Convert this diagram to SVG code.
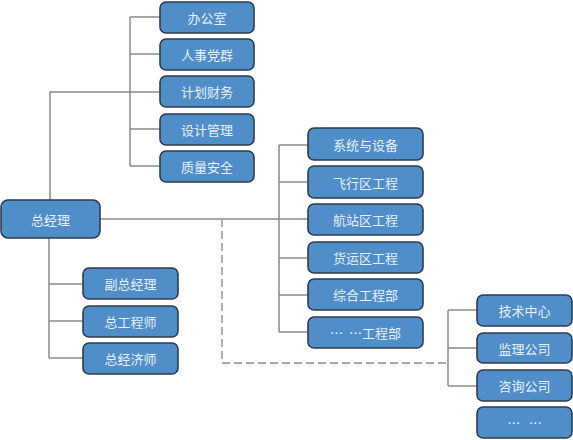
<svg xmlns="http://www.w3.org/2000/svg" width="573" height="440" viewBox="0 0 573 440">
<style>
.b rect{fill:#4f8ec9;stroke:#2f3c4c;stroke-width:1.6}
.b text{fill:#e8eff7;font-family:"Noto Sans CJK SC","Liberation Sans",sans-serif;font-size:13px;text-anchor:middle;dominant-baseline:central}
.c{stroke:#8a8a8a;stroke-width:1.5;fill:none}
.d{stroke:#a8a8a8;stroke-width:1.8;fill:none;stroke-dasharray:8 4}
</style>
<rect width="573" height="440" fill="#ffffff"/>
<g id="connectors">
<path class="c" d="M50 200V92H160M130 17V166M130 17H160M130 54H160M130 129H160M130 166H160"/>
<path class="c" d="M100 219H308M279 145V332M279 145H308M279 182H308M279 258H308M279 295H308M279 332H308"/>
<path class="c" d="M49 238V358M49 284H83M49 321H83M49 358H83"/>
<path class="c" d="M448 310V386M448 310H477M448 348H477M448 386H477"/>
<path class="d" d="M222 219V363H448"/>
</g>
<g id="n_zjl" class="b"><rect x="1" y="200" width="99" height="38" rx="7"/><text x="50.5" y="219">总经理</text></g>
<g id="n_bgs" class="b"><rect x="160" y="2" width="94" height="31" rx="6"/><text x="207" y="17.5">办公室</text></g>
<g id="n_rsdq" class="b"><rect x="160" y="39" width="94" height="31" rx="6"/><text x="207" y="54.5">人事党群</text></g>
<g id="n_jhcw" class="b"><rect x="160" y="76" width="94" height="31" rx="6"/><text x="207" y="91.5">计划财务</text></g>
<g id="n_sjgl" class="b"><rect x="160" y="114" width="94" height="31" rx="6"/><text x="207" y="129.5">设计管理</text></g>
<g id="n_zlaq" class="b"><rect x="160" y="151" width="94" height="31" rx="6"/><text x="207" y="166.5">质量安全</text></g>
<g id="n_fzjl" class="b"><rect x="83" y="268" width="95" height="31" rx="6"/><text x="130.5" y="283.5">副总经理</text></g>
<g id="n_zgcs" class="b"><rect x="83" y="306" width="95" height="31" rx="6"/><text x="130.5" y="321.5">总工程师</text></g>
<g id="n_zjjs" class="b"><rect x="83" y="343" width="95" height="31" rx="6"/><text x="130.5" y="358.5">总经济师</text></g>
<g id="n_xtsb" class="b"><rect x="308" y="128" width="115" height="32" rx="6"/><text x="365.5" y="144">系统与设备</text></g>
<g id="n_fxq" class="b"><rect x="308" y="166" width="115" height="32" rx="6"/><text x="365.5" y="182">飞行区工程</text></g>
<g id="n_hzq" class="b"><rect x="308" y="204" width="115" height="31" rx="6"/><text x="365.5" y="219.5">航站区工程</text></g>
<g id="n_hyq" class="b"><rect x="308" y="242" width="115" height="31" rx="6"/><text x="365.5" y="257.5">货运区工程</text></g>
<g id="n_zhgc" class="b"><rect x="308" y="279" width="115" height="31" rx="6"/><text x="365.5" y="294.5">综合工程部</text></g>
<g id="n_etc1" class="b"><rect x="308" y="317" width="115" height="31" rx="6"/><text x="365.5" y="332.5" xml:space="preserve">…  …工程部</text></g>
<g id="n_jszx" class="b"><rect x="477" y="295" width="95" height="31" rx="6"/><text x="524.5" y="310.5">技术中心</text></g>
<g id="n_jlgs" class="b"><rect x="477" y="333" width="95" height="30" rx="6"/><text x="524.5" y="348">监理公司</text></g>
<g id="n_zxgs" class="b"><rect x="477" y="370" width="95" height="31" rx="6"/><text x="524.5" y="385.5">咨询公司</text></g>
<g id="n_etc2" class="b"><rect x="477" y="407" width="95" height="31" rx="6"/><text x="524.5" y="422.5" xml:space="preserve">…   …</text></g>
</svg>
